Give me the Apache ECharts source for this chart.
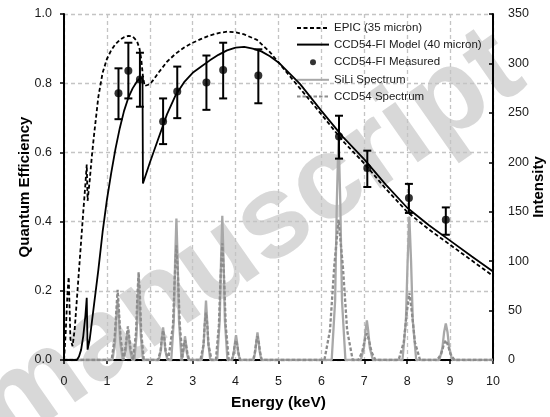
<!DOCTYPE html>
<html>
<head>
<meta charset="utf-8">
<script src="https://cdn.jsdelivr.net/npm/echarts@6/dist/echarts.min.js"></script>
<style>
html,body{margin:0;padding:0;background:#fff;}
#chart{width:550px;height:417px;}
</style>
</head>
<body>
<div id="chart"></div>
<script>
// ---- Data ----
const xTicks = [0,1,2,3,4,5,6,7,8,9,10];
const qeTicks = ['0.0','0.2','0.4','0.6','0.8','1.0'];
const intensityTicks = [0,50,100,150,200,250,300,350];

// EPIC (35 micron) quantum efficiency [keV, QE]
const epicQE = [
[0.0,0.0],[0.04,0.08],[0.08,0.19],[0.11,0.24],[0.13,0.15],[0.15,0.06],[0.2,0.04],[0.25,0.09],
[0.3,0.175],[0.35,0.26],[0.4,0.345],[0.45,0.43],[0.5,0.51],[0.53,0.565],[0.55,0.46],[0.6,0.52],
[0.65,0.59],[0.7,0.65],[0.8,0.76],[0.9,0.83],[1.0,0.87],[1.1,0.895],[1.2,0.913],[1.3,0.925],
[1.4,0.933],[1.5,0.937],[1.6,0.935],[1.7,0.922],[1.76,0.9],[1.8,0.87],[1.84,0.82],[1.88,0.792],
[1.92,0.79],[2.0,0.797],[2.1,0.812],[2.2,0.83],[2.4,0.862],[2.6,0.885],[2.8,0.903],[3.0,0.917],
[3.2,0.928],[3.4,0.938],[3.6,0.945],[3.8,0.949],[4.0,0.947],[4.2,0.941],[4.5,0.925],[4.8,0.89],
[5.0,0.86],[5.5,0.785],[6.0,0.71],[6.5,0.633],[7.0,0.568],[7.5,0.495],[8.0,0.428],[8.5,0.378],
[9.0,0.333],[9.5,0.288],[10,0.243]
];

// CCD54-FI Model (40 micron) [keV, QE]
const modelQE = [
[0.0,0.0],[0.3,0.0],[0.35,0.01],[0.4,0.03],[0.45,0.07],[0.5,0.13],[0.53,0.18],[0.55,0.03],
[0.6,0.06],[0.7,0.16],[0.8,0.26],[0.9,0.37],[1.0,0.463],[1.1,0.54],[1.2,0.61],[1.3,0.67],
[1.4,0.72],[1.5,0.758],[1.6,0.785],[1.7,0.805],[1.77,0.814],[1.83,0.815],[1.84,0.51],[1.86,0.506],
[2.0,0.57],[2.2,0.64],[2.4,0.71],[2.6,0.765],[2.8,0.803],[3.0,0.83],[3.2,0.848],[3.4,0.866],
[3.6,0.882],[3.8,0.895],[4.0,0.903],[4.2,0.905],[4.4,0.9],[4.6,0.892],[4.8,0.878],[5.0,0.86],
[5.5,0.798],[6.0,0.72],[6.5,0.645],[7.0,0.58],[7.5,0.507],[8.0,0.44],[8.5,0.39],[9.0,0.345],
[9.5,0.30],[10,0.256]
];

// CCD54-FI Measured: energy, QE, lower, upper
const measEnergy = [1.27,1.50,1.77,2.31,2.64,3.32,3.71,4.53,6.41,7.07,8.04,8.90];
const measQE     = [0.771,0.836,0.811,0.689,0.776,0.802,0.838,0.822,0.646,0.555,0.468,0.405];
const measLow    = [0.696,0.756,0.732,0.624,0.699,0.723,0.756,0.742,0.582,0.500,0.425,0.362];
const measHigh   = [0.843,0.917,0.888,0.756,0.848,0.880,0.917,0.898,0.706,0.605,0.509,0.441];

// SiLi spectrum [keV, intensity]
const siliSpectrum = [
[0,0],[1.13,0],[1.19,18],[1.22,42],[1.25,60],[1.28,42],[1.31,18],[1.37,0],
[1.39,0],[1.44,10],[1.47,24],[1.49,30],[1.51,24],[1.54,10],[1.59,0],
[1.64,0],[1.69,25],[1.72,60],[1.74,85],[1.76,60],[1.79,25],[1.84,0],
[2.21,0],[2.26,10],[2.29,25],[2.31,33],[2.33,25],[2.36,10],[2.41,0],
[2.5,0],[2.56,40],[2.59,100],[2.62,143],[2.65,100],[2.68,40],[2.74,0],
[2.76,0],[2.79,10],[2.81,20],[2.82,24],[2.84,18],[2.86,8],[2.9,0],
[3.21,0],[3.26,18],[3.29,45],[3.31,60],[3.33,45],[3.36,18],[3.41,0],
[3.57,0],[3.63,40],[3.66,100],[3.69,146],[3.72,100],[3.75,40],[3.81,0],
[3.92,0],[3.96,8],[3.99,19],[4.01,25],[4.03,19],[4.06,8],[4.1,0],
[4.42,0],[4.46,9],[4.49,21],[4.51,28],[4.53,21],[4.56,9],[4.6,0],
[6.24,0],[6.32,60],[6.36,160],[6.40,228],[6.44,160],[6.48,60],[6.56,0],
[6.92,0],[6.99,12],[7.03,30],[7.06,40],[7.09,30],[7.13,12],[7.2,0],
[7.89,0],[7.97,40],[8.01,100],[8.05,145],[8.09,100],[8.13,40],[8.21,0],
[8.75,0],[8.82,12],[8.86,28],[8.90,37],[8.94,28],[8.98,12],[9.05,0],
[10,0]
];

// CCD54 spectrum [keV, intensity]
const ccdSpectrum = [
[0,0],[1.11,0],[1.18,22],[1.22,50],[1.25,71],[1.28,50],[1.32,22],[1.39,0],
[1.37,0],[1.43,12],[1.47,27],[1.49,34],[1.51,27],[1.55,12],[1.61,0],
[1.62,0],[1.68,28],[1.71,65],[1.74,89],[1.77,65],[1.80,28],[1.86,0],
[2.19,0],[2.25,9],[2.28,22],[2.31,30],[2.34,22],[2.37,9],[2.43,0],
[2.47,0],[2.54,35],[2.58,82],[2.62,116],[2.66,82],[2.70,35],[2.77,0],
[2.72,0],[2.77,8],[2.80,16],[2.82,20],[2.85,14],[2.88,6],[2.92,0],
[3.18,0],[3.25,15],[3.28,36],[3.31,48],[3.34,36],[3.37,15],[3.44,0],
[3.54,0],[3.61,35],[3.65,84],[3.69,118],[3.73,84],[3.77,35],[3.84,0],
[3.91,0],[3.95,6],[3.98,15],[4.01,20],[4.04,15],[4.07,6],[4.11,0],
[4.41,0],[4.45,8],[4.48,18],[4.51,24],[4.54,18],[4.57,8],[4.61,0],
[6.07,0],[6.2,30],[6.3,95],[6.40,142],[6.5,95],[6.6,30],[6.73,0],
[6.86,0],[6.95,8],[7.01,20],[7.06,27],[7.11,20],[7.17,8],[7.26,0],
[7.8,0],[7.92,18],[7.99,48],[8.05,68],[8.11,48],[8.18,18],[8.30,0],
[8.70,0],[8.79,6],[8.85,15],[8.90,20],[8.95,15],[9.01,6],[9.10,0],
[10,0]
];

// ---- Build options ----
const measPoints = measEnergy.map((e,i)=>[e, measQE[i]]);
const errBars = measEnergy.map((e,i)=>[e, measLow[i], measHigh[i]]);

const FONT = '"Liberation Sans", Arial, sans-serif';
const chart = echarts.init(document.getElementById('chart'), null, {renderer:'canvas'});
const noSymbol = {opacity: 0, borderWidth: 0};

const option = {
  animation: false,
  backgroundColor: '#ffffff',
  textStyle: {fontFamily: FONT},
  grid: {left: 64, right: 57, top: 14, bottom: 57, containLabel: false, outerBoundsMode: 'none'},
  graphic: [{
    type: 'text', x: 250, y: 240, rotation: 35*Math.PI/180, z: -1, zlevel: 0, silent: true,
    style: {text: 'manuscript', font: 'bold 118px ' + FONT, fill: '#d4d4d4', opacity: 0.9, align: 'center', verticalAlign: 'middle'}
  }],
  legend: {
    orient: 'vertical', left: 296, top: 22, padding: 0, itemWidth: 32, itemHeight: 14, itemGap: 4.6,
    textStyle: {fontFamily: FONT, fontSize: 11.5, color: '#1a1a1a'},
    data: [
      {name: 'EPIC (35 micron)', itemStyle: noSymbol},
      {name: 'CCD54-FI Model (40 micron)', itemStyle: noSymbol},
      {name: 'CCD54-FI Measured', icon: 'path://M0,0L0,0M14,14L14,14M7,4A3,3 0 1 1 7,10A3,3 0 1 1 7,4Z'},
      {name: 'SiLi Spectrum', itemStyle: noSymbol},
      {name: 'CCD54 Spectrum', itemStyle: noSymbol}
    ]
  },
  xAxis: {
    type: 'value', min: xTicks[0], max: xTicks[xTicks.length-1], interval: 1,
    name: 'Energy (keV)', nameLocation: 'middle', nameGap: 35, nameMoveOverlap: false,
    nameTextStyle: {fontFamily: FONT, fontSize: 15.5, fontWeight: 'bold', color: '#000'},
    axisLine: {show: true, onZero: false, lineStyle: {color: '#000', width: 2}},
    axisTick: {show: true, length: 4, lineStyle: {color: '#000', width: 1.5}},
    axisLabel: {margin: 15, fontSize: 12.5, color: '#1a1a1a', fontFamily: FONT},
    splitLine: {show: true, lineStyle: {color: '#c4c4c4', type: [4,3], width: 1.3}}
  },
  yAxis: [{
    type: 'value', min: 0, max: 1, interval: 0.2, position: 'left',
    name: 'Quantum Efficiency', nameLocation: 'middle', nameGap: 32, nameRotate: 90, nameMoveOverlap: false,
    nameTextStyle: {fontFamily: FONT, fontSize: 15, fontWeight: 'bold', color: '#000'},
    axisLine: {show: true, lineStyle: {color: '#000', width: 2}},
    axisTick: {show: true, length: 4, lineStyle: {color: '#000', width: 1.5}},
    axisLabel: {margin: 12, fontSize: 12.5, color: '#1a1a1a', fontFamily: FONT,
      formatter: (v) => qeTicks[Math.round(v/0.2)]},
    splitLine: {show: true, lineStyle: {color: '#c4c4c4', type: [4,3], width: 1.3}}
  }, {
    type: 'value', min: intensityTicks[0], max: intensityTicks[intensityTicks.length-1], interval: 50, position: 'right',
    name: 'Intensity', nameLocation: 'middle', nameGap: 38, nameRotate: 90, nameMoveOverlap: false,
    nameTextStyle: {fontFamily: FONT, fontSize: 15, fontWeight: 'bold', color: '#000'},
    axisLine: {show: true, lineStyle: {color: '#000', width: 2}},
    axisTick: {show: true, inside: true, length: 4, lineStyle: {color: '#000', width: 1.5}},
    axisLabel: {margin: 15, fontSize: 12.5, color: '#1a1a1a', fontFamily: FONT},
    splitLine: {show: false}
  }],
  series: [
    {
      name: 'EPIC (35 micron)', type: 'line', data: epicQE, yAxisIndex: 0, symbol: 'none', z: 5,
      lineStyle: {color: '#000', width: 1.8, type: [4,2.5]}, itemStyle: {color: '#000'}
    },
    {
      name: 'CCD54-FI Model (40 micron)', type: 'line', data: modelQE, yAxisIndex: 0, symbol: 'none', z: 5,
      lineStyle: {color: '#000', width: 1.8}, itemStyle: {color: '#000'}
    },
    {
      name: 'CCD54-FI Measured', type: 'scatter', data: measPoints, yAxisIndex: 0, symbol: 'circle', symbolSize: 8, z: 7,
      itemStyle: {color: '#000'}
    },
    {
      name: 'SiLi Spectrum', type: 'line', data: siliSpectrum, yAxisIndex: 1, symbol: 'none', z: 3,
      lineStyle: {color: '#a8a8a8', width: 2.3}, itemStyle: {color: '#a8a8a8'}
    },
    {
      name: 'CCD54 Spectrum', type: 'line', data: ccdSpectrum, yAxisIndex: 1, symbol: 'none', z: 4,
      lineStyle: {color: '#8c8c8c', width: 2.3, type: [3.5,2]}, itemStyle: {color: '#8c8c8c'}
    },
    {
      name: 'errorbars', type: 'custom', yAxisIndex: 0, z: 6, data: errBars,
      renderItem: function (params, api) {
        const x = api.value(0);
        const lo = api.coord([x, api.value(1)]);
        const hi = api.coord([x, api.value(2)]);
        const cap = 4;
        const st = {stroke: '#000', lineWidth: 2};
        return {type: 'group', children: [
          {type: 'line', shape: {x1: lo[0], y1: lo[1], x2: hi[0], y2: hi[1]}, style: st},
          {type: 'line', shape: {x1: lo[0]-cap, y1: lo[1], x2: lo[0]+cap, y2: lo[1]}, style: st},
          {type: 'line', shape: {x1: hi[0]-cap, y1: hi[1], x2: hi[0]+cap, y2: hi[1]}, style: st}
        ]};
      }
    }
  ]
};
chart.setOption(option);
</script>
</body>
</html>
